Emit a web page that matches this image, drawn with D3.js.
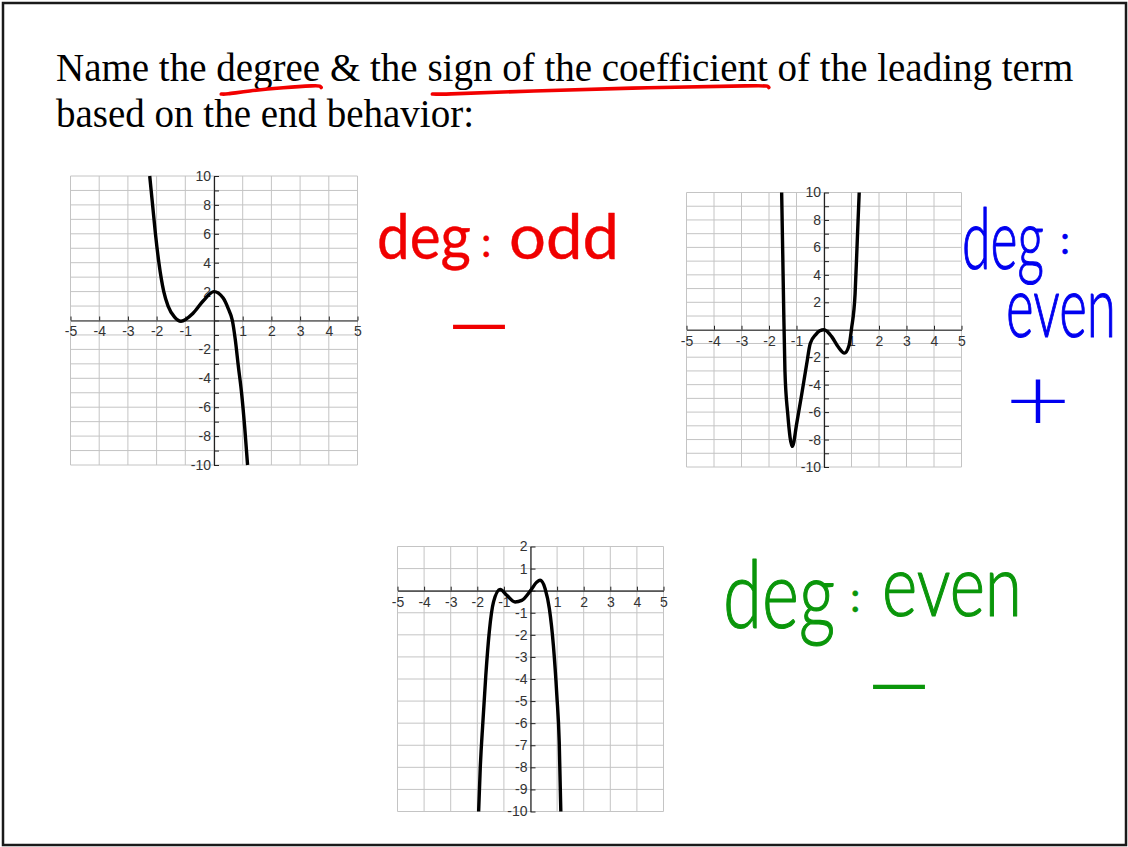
<!DOCTYPE html>
<html>
<head>
<meta charset="utf-8">
<script src="https://cdn.jsdelivr.net/npm/d3@7"></script>
<style>
  html, body { margin: 0; padding: 0; background: #fff; }
  svg { display: block; }
</style>
</head>
<body>
<svg id="slide" width="1128" height="847"></svg>
<script>
// ---- Slide text ----
const titleLines = [
  "Name the degree & the sign of the coefficient of the leading term",
  "based on the end behavior:"
];
const underlinedPhrases = ["degree", "sign of the coefficient"];

// ---- Axis ticks ----
const xTicks = [-5, -4, -3, -2, -1, 0, 1, 2, 3, 4, 5];
const yTicksTall = [-10, -9, -8, -7, -6, -5, -4, -3, -2, -1, 0, 1, 2, 3, 4, 5, 6, 7, 8, 9, 10];
const yTicksShort = [-10, -9, -8, -7, -6, -5, -4, -3, -2, -1, 0, 1, 2];

// ---- Graph 1: falls to the right, touches zero near x = -1.1 ----
const curve1X = [-2.24, -2.14, -2.04, -1.92, -1.75, -1.6, -1.38, -1.15, -0.73, -0.38, 0, 0.32, 0.5, 0.64, 0.74, 0.85, 0.96, 1.07, 1.17];
const curve1Y = [10, 8, 6, 4, 2, 1, 0.25, -0.05, 0.5, 1.35, 2.0, 1.55, 0.8, 0, -1.3, -3.2, -5.0, -7.4, -10];

// ---- Graph 2: both ends up ----
const curve2X = [-1.54, -1.5, -1.47, -1.42, -1.32, -1.15, -0.99, -0.81, -0.63, -0.5, -0.3, -0.15, 0, 0.28, 0.52, 0.74, 0.91, 1.0, 1.13, 1.21, 1.28];
const curve2Y = [10, 5.5, 2, -3, -6.1, -8.5, -6.8, -4.7, -2.5, -1.0, -0.35, -0.08, 0, -0.5, -1.26, -1.7, -1.14, 0.07, 2.6, 6.5, 10];

// ---- Graph 3: both ends down ----
const curve3X = [-1.95, -1.89, -1.79, -1.68, -1.55, -1.39, -1.14, -0.89, -0.58, -0.33, 0, 0.24, 0.36, 0.55, 0.71, 0.86, 0.99, 1.08, 1.14];
const curve3Y = [-10, -8.06, -5.95, -3.83, -1.87, -0.51, 0.06, -0.21, -0.51, -0.44, 0, 0.39, 0.47, 0.09, -0.82, -2.48, -4.74, -6.85, -10];

// ---- Handwritten answers ----
const answer1 = ["deg", ":", "odd", "\u2212"];
const answer2 = ["deg", ":", "even", "+"];
const answer3 = ["deg", ":", "even", "\u2212"];

const svg = d3.select("#slide");

// Slide frame
svg.append("rect")
  .attr("x", 3).attr("y", 3)
  .attr("width", 1123).attr("height", 842)
  .attr("fill", "#fff")
  .attr("stroke", "#1a1a1a")
  .attr("stroke-width", 2.5);

// ---- Title ----
const title = svg.append("g")
  .attr("font-family", "'Liberation Serif', 'Times New Roman', serif")
  .attr("font-size", 39)
  .attr("fill", "#000");

const baselines = [81, 127];
const titleNodes = titleLines.map((line, i) =>
  title.append("text")
    .attr("x", 56)
    .attr("y", baselines[i])
    .text(line)
    .node()
);

// Red pen underlines beneath the highlighted phrases
const penLine = d3.line().curve(d3.curveBasis);
underlinedPhrases.forEach(phrase => {
  const node = titleNodes[0];
  const idx = titleLines[0].indexOf(phrase);
  const x0 = node.getStartPositionOfChar(idx).x;
  const end = node.getEndPositionOfChar(idx + phrase.length - 1).x;
  const w = end - x0;
  const b = baselines[0];
  const pts = [
    [x0 + 5, b + 13],
    [x0 + 9, b + 13.5],
    [x0 + w * 0.3, b + 10],
    [x0 + w * 0.65, b + 6.5],
    [end - 4, b + 4.5],
    [end, b + 5],
    [end + 1, b + 6.5]
  ];
  svg.append("path")
    .attr("d", penLine(pts))
    .attr("fill", "none")
    .attr("stroke", "#f20000")
    .attr("stroke-width", 3.6)
    .attr("stroke-linecap", "round")
    .attr("stroke-linejoin", "round");
});

// ---- Graph drawing ----
function drawGraph(box, yTicks, labelEvery, xs, ys) {
  const x = d3.scaleLinear().domain([-5, 5]).range([box.left, box.right]);
  const y = d3.scaleLinear().domain([d3.min(yTicks), d3.max(yTicks)]).range([box.bottom, box.top]);
  const g = svg.append("g");

  // grid
  g.append("g").selectAll("line").data(xTicks).join("line")
    .attr("x1", d => x(d)).attr("x2", d => x(d))
    .attr("y1", box.top).attr("y2", box.bottom)
    .attr("stroke", "#c4c4c4").attr("stroke-width", 1);
  g.append("g").selectAll("line").data(yTicks).join("line")
    .attr("x1", box.left).attr("x2", box.right)
    .attr("y1", d => y(d)).attr("y2", d => y(d))
    .attr("stroke", "#c4c4c4").attr("stroke-width", 1);

  const fontFamily = "'Liberation Sans', Arial, sans-serif";

  // x axis along y = 0, ticks pointing up, labels underneath
  const xAxis = d3.axisBottom(x)
    .tickValues(xTicks)
    .tickSizeInner(-4).tickSizeOuter(0).tickPadding(6)
    .tickFormat(d => d === 0 ? "" : String(d));
  const xg = g.append("g").attr("transform", `translate(0,${y(0)})`).call(xAxis);

  // y axis along x = 0, ticks pointing right, labels on the left
  const yAxis = d3.axisLeft(y)
    .tickValues(yTicks)
    .tickSizeInner(-5).tickSizeOuter(0).tickPadding(3)
    .tickFormat(d => (d === 0 || d % labelEvery !== 0) ? "" : String(d));
  const yg = g.append("g").attr("transform", `translate(${x(0)},0)`).call(yAxis);

  [xg, yg].forEach(a => {
    a.attr("font-family", fontFamily).attr("font-size", 14);
    a.select(".domain").attr("stroke", "#222").attr("stroke-width", 1.2);
    a.selectAll(".tick line").attr("stroke", "#222");
    a.selectAll(".tick text").attr("fill", "#333");
  });

  // curve
  const pts = xs.map((v, i) => [v, ys[i]]);
  g.append("path")
    .datum(pts)
    .attr("d", d3.line().x(d => x(d[0])).y(d => y(d[1])).curve(d3.curveMonotoneX))
    .attr("fill", "none")
    .attr("stroke", "#000")
    .attr("stroke-width", 3.4)
    .attr("stroke-linejoin", "round");
}

drawGraph({ left: 70.5, right: 357.5, top: 176, bottom: 465 }, yTicksTall, 2, curve1X, curve1Y);
drawGraph({ left: 686.5, right: 961.5, top: 192.5, bottom: 467 }, yTicksTall, 2, curve2X, curve2Y);
drawGraph({ left: 397.5, right: 663.5, top: 546.5, bottom: 811.5 }, yTicksShort, 1, curve3X, curve3Y);

// ---- Handwritten notes (marker-like: fill plus a thin round stroke) ----
function ink(text, color, x, y, size, width, weight, pen) {
  const t = svg.append("text")
    .attr("x", x).attr("y", y)
    .attr("font-family", "Lato, 'Open Sans', sans-serif")
    .attr("font-size", size)
    .attr("font-weight", weight || 400)
    .attr("fill", color)
    .attr("stroke", color)
    .attr("stroke-width", pen || 0)
    .attr("stroke-linejoin", "round")
    .text(text);
  if (width) t.attr("textLength", width).attr("lengthAdjust", "spacingAndGlyphs");
  return t;
}

const red = "#f00000", blue = "#0000f0", green = "#0a960a";

ink(answer1[0], red, 377, 259, 62, 94, 400, 0.4);
ink(answer1[1], red, 481, 257, 42, null, 400, 0.4);
ink(answer1[2], red, 509, 259, 62, 110, 400, 0.4);
ink(answer1[3], red, 444, 348, 62, 70, 400, 0);

ink(answer2[0], blue, 962, 269, 84, 82, 300, 1.2);
ink(answer2[1], blue, 1060, 254, 40, null, 400, 0.4);
ink(answer2[2], blue, 1006, 337, 86, 110, 300, 1.2);
ink(answer2[3], blue, 1005, 431, 88, 66, 300, 0);

ink(answer3[0], green, 723, 628, 94, 112, 300, 1.2);
ink(answer3[1], green, 850, 612, 42, null, 400, 0.4);
ink(answer3[2], green, 882, 616, 86, 140, 300, 1.2);
ink(answer3[3], green, 864, 708, 62, 70, 400, 0);
</script>
</body>
</html>
